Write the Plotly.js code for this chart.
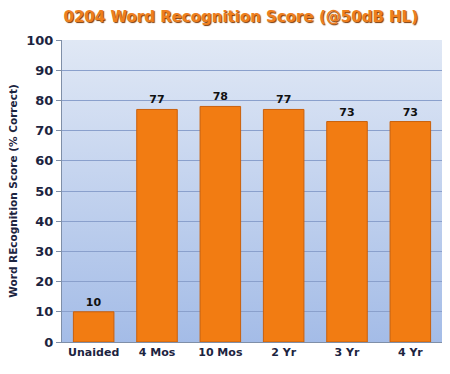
<!DOCTYPE html>
<html>
<head>
<meta charset="utf-8">
<script src="https://cdn.plot.ly/plotly-3.0.1.min.js"></script>
<style>html,body{margin:0;padding:0;background:#fff;}#chart{width:450px;height:374px;}</style>
</head>
<body>
<div id="chart"></div>
<script>
const categories = ["Unaided", "4 Mos", "10 Mos", "2 Yr", "3 Yr", "4 Yr"];
const scores = [10, 77, 78, 77, 73, 73];
const valueLabels = ["10", "77", "78", "77", "73", "73"];
const yTicks = [0, 10, 20, 30, 40, 50, 60, 70, 80, 90, 100];

const grad = 'data:image/svg+xml;utf8,' + encodeURIComponent(
  '<svg xmlns="http://www.w3.org/2000/svg" width="100" height="100" preserveAspectRatio="none">' +
  '<defs><linearGradient id="g" x1="0" y1="0" x2="0" y2="1">' +
  '<stop offset="0" stop-color="#e0e8f5"/><stop offset="1" stop-color="#a4bce7"/>' +
  '</linearGradient></defs><rect width="100" height="100" fill="url(#g)"/></svg>');

const trace = {
  type: 'bar',
  x: categories,
  y: scores,
  text: valueLabels,
  textposition: 'outside',
  cliponaxis: false,
  textfont: {family: 'DejaVu Sans', size: 11, color: '#111111', weight: 'bold'},
  marker: {color: '#f27c12', line: {color: '#c9600c', width: 1}},
  width: 0.64,
  hoverinfo: 'none'
};

const layout = {
  width: 450, height: 374,
  margin: {l: 62, r: 8, t: 40, b: 32},
  paper_bgcolor: '#ffffff',
  plot_bgcolor: 'rgba(0,0,0,0)',
  showlegend: false,
  bargap: 0.36,
  title: {
    text: '0204 Word Recognition Score (@50dB HL)',
    x: 0.535, xanchor: 'center', y: 0.955, yanchor: 'middle',
    font: {family: 'DejaVu Sans', size: 15, color: '#ee7f1e', weight: 'bold', shadow: '1px 1px 1px #7a3a08'}
  },
  xaxis: {
    type: 'category',
    showgrid: false,
    showline: true, linecolor: '#7f8fa8', linewidth: 1,
    ticks: '', ticklen: 0,
    tickfont: {family: 'DejaVu Sans', size: 11, color: '#1c2440', weight: 'bold'},
    fixedrange: true
  },
  yaxis: {
    range: [0, 100],
    tickvals: yTicks,
    ticktext: yTicks.map(String),
    showgrid: true, gridcolor: '#8aa0cc', gridwidth: 1,
    showline: true, linecolor: '#7f8fa8', linewidth: 1,
    ticks: 'outside', ticklen: 5, tickcolor: '#7f8fa8',
    tickfont: {family: 'DejaVu Sans', size: 13, color: '#1c2440', weight: 'bold'},
    title: {text: 'Word REcognition Score (% Correct)', standoff: 6,
      font: {family: 'DejaVu Sans', size: 10.5, color: '#1c2440', weight: 'bold'}},
    fixedrange: true
  },
  images: [{
    source: grad, xref: 'paper', yref: 'paper', x: 0, y: 1, sizex: 1, sizey: 1,
    xanchor: 'left', yanchor: 'top', sizing: 'stretch', layer: 'below'
  }]
};

Plotly.newPlot('chart', [trace], layout, {displayModeBar: false, staticPlot: true});
</script>
</body>
</html>
